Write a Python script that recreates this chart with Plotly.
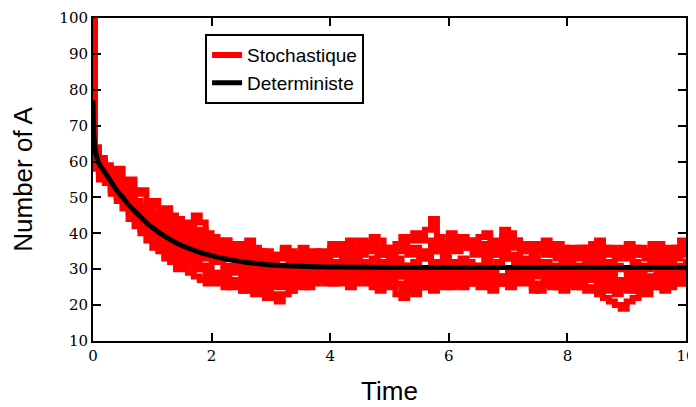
import plotly.graph_objects as go

# time grid of the stochastic runs
t_stoch = [0, 0.03] + [round(0.1 * i, 1) for i in range(1, 101)]

run_1 = [100, 62,
         59, 58, 56, 55, 52, 51, 49, 47, 46, 45,
         44, 46, 45, 42, 40, 41, 45, 43, 40, 38,
         37, 38, 36, 35, 37, 38, 36, 34, 35, 33,
         34, 36, 35, 33, 34, 32, 33, 35, 34, 36,
         35, 37, 38, 36, 34, 37, 39, 38, 36, 35,
         37, 39, 38, 40, 38, 41, 44, 39, 37, 36,
         35, 37, 38, 36, 39, 40, 38, 37, 41, 40,
         38, 36, 35, 37, 36, 34, 35, 37, 36, 35,
         34, 36, 35, 37, 38, 36, 35, 34, 36, 35,
         36, 34, 35, 37, 36, 35, 34, 36, 38, 37]
run_2 = [100, 60,
         57, 55, 52, 49, 47, 44, 42, 40, 38, 36,
         35, 33, 32, 30, 31, 29, 28, 27, 26, 28,
         26, 25, 27, 26, 24, 25, 23, 24, 22, 23,
         21, 23, 24, 26, 25, 27, 26, 28, 27, 26,
         28, 27, 25, 26, 28, 27, 25, 24, 26, 25,
         23, 22, 24, 25, 27, 26, 28, 27, 25, 26,
         27, 25, 26, 28, 27, 29, 28, 26, 27, 25,
         26, 28, 27, 25, 24, 26, 27, 25, 26, 27,
         25, 26, 24, 25, 23, 22, 21, 20, 19, 21,
         22, 24, 23, 25, 26, 24, 25, 27, 26, 28]
run_3 = [100, 61,
         60, 57, 55, 54, 53, 50, 48, 47, 44, 43,
         42, 40, 41, 39, 38, 40, 39, 37, 36, 37,
         35, 36, 34, 33, 35, 34, 32, 33, 31, 32,
         30, 31, 33, 32, 34, 31, 30, 32, 33, 31,
         32, 30, 33, 34, 32, 31, 33, 35, 34, 32,
         33, 31, 30, 32, 34, 33, 35, 36, 34, 38,
         39, 37, 36, 34, 35, 33, 34, 36, 35, 33,
         34, 32, 33, 35, 37, 36, 34, 33, 32, 34,
         33, 35, 36, 34, 33, 31, 32, 34, 35, 33,
         32, 30, 31, 33, 34, 32, 33, 35, 34, 36]
run_4 = [100, 59,
         56, 54, 51, 50, 47, 46, 44, 41, 40, 38,
         37, 36, 34, 33, 35, 34, 32, 30, 31, 29,
         28, 30, 29, 31, 28, 27, 29, 28, 30, 29,
         27, 28, 30, 29, 28, 30, 31, 29, 28, 30,
         29, 31, 28, 27, 29, 30, 28, 29, 31, 30,
         28, 29, 27, 28, 30, 29, 31, 30, 28, 29,
         30, 28, 29, 31, 30, 32, 29, 28, 27, 29,
         30, 31, 29, 28, 30, 32, 31, 29, 28, 30,
         31, 29, 28, 30, 29, 27, 26, 25, 27, 26,
         28, 29, 27, 26, 28, 30, 29, 27, 28, 30]
run_5 = [100, 63,
         58, 56, 55, 53, 51, 48, 46, 45, 42, 41,
         39, 38, 40, 37, 36, 34, 35, 33, 34, 32,
         33, 31, 30, 32, 31, 29, 30, 28, 29, 27,
         28, 30, 29, 31, 30, 32, 33, 31, 30, 29,
         31, 33, 32, 30, 31, 29, 30, 32, 31, 33,
         32, 30, 31, 29, 28, 30, 32, 31, 33, 32,
         31, 33, 32, 30, 31, 29, 30, 32, 34, 33,
         32, 30, 31, 33, 32, 30, 29, 31, 30, 32,
         30, 31, 33, 32, 30, 28, 29, 31, 30, 28,
         29, 31, 30, 32, 31, 33, 32, 30, 31, 33]
run_6 = [100, 60,
         58, 55, 57, 53, 50, 52, 48, 45, 47, 43,
         41, 43, 39, 42, 38, 36, 39, 35, 37, 34,
         36, 33, 35, 31, 34, 30, 32, 29, 31, 28,
         30, 27, 29, 26, 28, 30, 27, 29, 31, 28,
         30, 27, 29, 32, 28, 30, 26, 29, 27, 30,
         28, 31, 27, 29, 25, 28, 30, 27, 31, 28,
         30, 26, 29, 27, 31, 28, 25, 28, 26, 29,
         27, 30, 28, 32, 29, 27, 30, 26, 29, 27,
         30, 28, 31, 27, 29, 26, 28, 25, 27, 24,
         27, 25, 28, 26, 29, 27, 30, 28, 26, 29]
run_7 = [100, 64,
         61, 59, 57, 58, 54, 55, 51, 52, 48, 49,
         46, 47, 43, 44, 41, 43, 40, 41, 38, 39,
         37, 38, 35, 37, 34, 36, 33, 35, 32, 34,
         33, 35, 32, 34, 36, 33, 35, 32, 34, 37,
         34, 36, 33, 35, 38, 35, 37, 34, 36, 33,
         35, 37, 34, 36, 33, 35, 38, 35, 37, 40,
         37, 39, 36, 38, 35, 37, 34, 36, 39, 36,
         38, 35, 37, 34, 36, 38, 35, 37, 34, 36,
         34, 36, 33, 35, 37, 34, 36, 33, 35, 37,
         34, 36, 33, 35, 37, 34, 36, 33, 35, 38]
run_8 = [100, 58,
         55, 56, 52, 53, 49, 50, 46, 44, 42, 40,
         38, 39, 35, 36, 32, 33, 30, 31, 28, 29,
         27, 28, 25, 27, 24, 26, 25, 27, 24, 26,
         25, 27, 24, 26, 28, 25, 27, 29, 26, 28,
         26, 28, 30, 27, 29, 26, 28, 25, 27, 29,
         26, 24, 26, 23, 25, 27, 24, 26, 28, 25,
         27, 29, 26, 28, 25, 27, 24, 26, 28, 30,
         27, 29, 26, 24, 26, 28, 25, 27, 24, 26,
         28, 25, 27, 29, 26, 24, 26, 23, 25, 27,
         24, 26, 28, 25, 27, 29, 26, 28, 30, 27]
runs = [run_1, run_2, run_3, run_4, run_5, run_6, run_7, run_8]

# deterministic solution
t_det = [0, 0.02, 0.05, 0.1, 0.2, 0.3, 0.4, 0.5, 0.6, 0.7, 0.8, 0.9, 1.0,
         1.2, 1.4, 1.6, 1.8, 2.0, 2.2, 2.4, 2.6, 2.8, 3.0, 3.5, 4.0, 5.0, 6.0, 10.0]
a_det = [77, 66, 62, 59.5, 57, 54.5, 52, 50, 48, 46.2, 44.6, 43, 41.6,
         39.3, 37.4, 35.9, 34.7, 33.8, 33.0, 32.4, 31.9, 31.5, 31.2, 30.8, 30.6, 30.5, 30.5, 30.5]

fig = go.Figure()
for i, run in enumerate(runs):
    fig.add_trace(go.Scatter(
        x=t_stoch, y=run, mode='lines',
        line=dict(color='#ff0000', width=6, shape='hv'),
        name='Stochastique', showlegend=(i == 0), legendgroup='s'
    ))
fig.add_trace(go.Scatter(
    x=t_det, y=a_det, mode='lines',
    line=dict(color='black', width=5, shape='spline'),
    name='Deterministe', legendgroup='d'
))

axis_style = dict(
    showline=True, linecolor='black', linewidth=2, mirror='ticks',
    ticks='inside', ticklen=8, tickwidth=1.5, tickcolor='black',
    showgrid=False, zeroline=False, automargin=False, ticklabeloverflow='allow',
    tickfont=dict(family='DejaVu Serif', size=15, color='black'),
)
fig.update_xaxes(range=[0, 10], tickvals=[0, 2, 4, 6, 8, 10],
                 title=dict(text='Time', font=dict(family='Liberation Sans', size=26, color='black'), standoff=18),
                 **axis_style)
fig.update_yaxes(range=[10, 100], tickvals=list(range(10, 101, 10)),
                 title=dict(text='Number of A', font=dict(family='Liberation Sans', size=26, color='black'), standoff=20),
                 **axis_style)

# the page body shifts the figure by 8 px, so the figure is 8 px smaller than the window
fig.update_layout(
    width=688, height=399,
    margin=dict(l=85, r=10, t=10, b=66),
    plot_bgcolor='white', paper_bgcolor='white',
    legend=dict(x=0.189, y=0.95, xanchor='left', yanchor='top',
                bordercolor='black', borderwidth=2, bgcolor='white',
                font=dict(family='Liberation Sans', size=19, color='black'),
                tracegroupgap=0),
)

fig.write_html("out.html")
